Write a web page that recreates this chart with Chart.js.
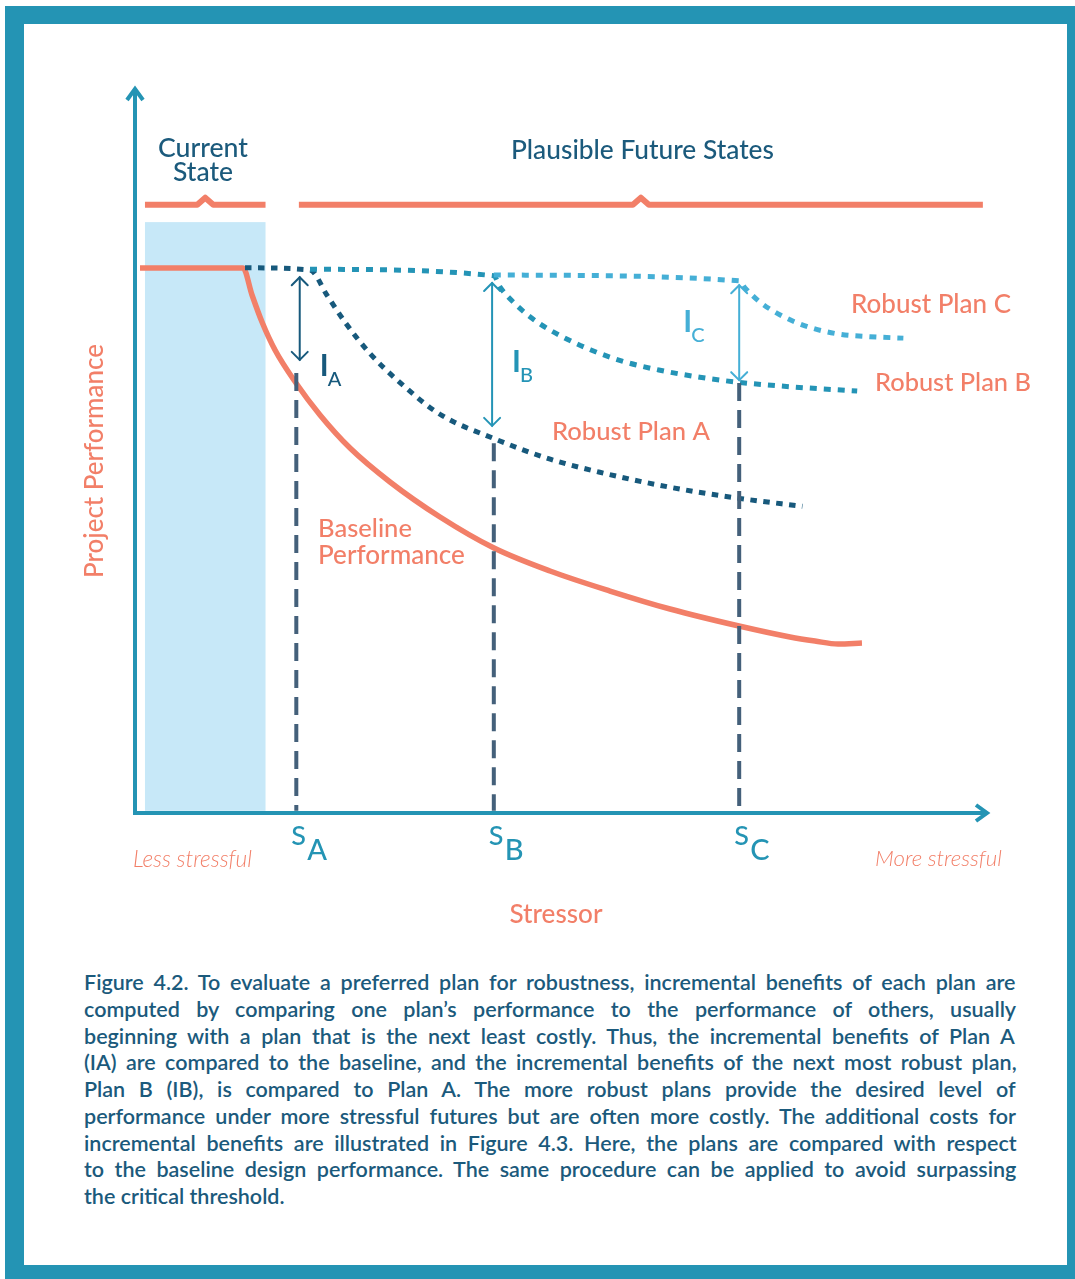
<!DOCTYPE html>
<html><head><meta charset="utf-8">
<script src="https://cdn.jsdelivr.net/npm/chart.js@4.4.0/dist/chart.umd.min.js"></script>
<style>
html,body{margin:0;padding:0;background:#fff;}
body{width:1075px;height:1279px;position:relative;overflow:hidden;font-family:Lato,sans-serif;}
#frame{position:absolute;left:5px;top:6px;width:1070px;height:1273px;background:#2494b4;}
#inner{position:absolute;left:19px;top:18px;width:1043px;height:1241px;background:#fff;}
#wrap{position:absolute;left:0;top:0;width:1075px;height:960px;}
#caption{position:absolute;left:84px;top:969px;width:933px;color:#1b5a7c;line-height:26.75px;font-weight:600;}
.ln{white-space:nowrap;height:26.75px;}
</style></head>
<body>
<div id="frame"><div id="inner"></div></div>
<div id="wrap"><canvas id="c" width="1075" height="960"></canvas></div>
<div id="caption"></div>
<script>
// ---------- data ----------
const baseX = [0.82, 12.87, 13.92, 15.09, 16.61, 19.06, 21.87, 25.38, 30.06, 35.91, 42.22, 48.77, 55.79, 62.81, 70.88, 76.84, 79.77, 82.46, 85.26];
const baseY = [75.17, 75.17, 71.45, 67.72, 63.86, 59.31, 54.90, 50.34, 45.66, 40.83, 36.55, 33.38, 30.62, 28.14, 25.79, 24.28, 23.72, 23.31, 23.45];
const planAX = [13.1, 20.7, 22.7, 24.8, 27.7, 31.2, 35.9, 42.1, 48.8, 54.6, 62.5, 70.9, 78.3];
const planAY = [75.2, 74.9, 71.4, 67.7, 63.4, 59.4, 55.0, 51.7, 48.8, 47.0, 45.0, 43.4, 42.3];
const planBX = [20.7, 42.2, 42.9, 44.8, 47.3, 50.2, 53.5, 57.3, 61.5, 66.3, 70.9, 76.8, 84.7];
const planBY = [75.0, 74.1, 72.6, 70.1, 67.7, 65.7, 63.9, 62.3, 61.1, 60.1, 59.4, 58.8, 58.2];
const planCX = [42.2, 70.9, 71.6, 73.3, 75.7, 78.6, 82.3, 86.2, 90.1];
const planCY = [74.2, 73.4, 72.4, 70.5, 68.7, 67.2, 66.1, 65.7, 65.5];
const stressX = [19.1, 42.2, 70.9];          // S_A, S_B, S_C
const stressTop = [60.7, 51.0, 59.3];        // top of dashed guides
const stressTicks = ['A', 'B', 'C'];
const incrX = [19.5, 42.0, 70.9];            // I_A, I_B, I_C arrows
const incrTop = [73.9, 73.1, 72.8];
const incrBottom = [62.5, 53.4, 59.7];
const incrLabels = ['A', 'B', 'C'];
const currentRange = [1.4, 15.5];
const futureRange = [19.4, 99.4];
const bracketY = 83.9;
const currentTop = 81.5;
const planNames = ['Robust Plan C', 'Robust Plan B', 'Robust Plan A'];
const captionLines = [
 "Figure 4.2. To evaluate a preferred plan for robustness, incremental benefits of each plan are",
 "computed by comparing one plan\u2019s performance to the performance of others, usually",
 "beginning with a plan that is the next least costly. Thus, the incremental benefits of Plan A",
 "(IA) are compared to the baseline, and the incremental benefits of the next most robust plan,",
 "Plan B (IB), is compared to Plan A. The more robust plans provide the desired level of",
 "performance under more stressful futures but are often more costly. The additional costs for",
 "incremental benefits are illustrated in Figure 4.3. Here, the plans are compared with respect",
 "to the baseline design performance. The same procedure can be applied to avoid surpassing",
 "the critical threshold."
];

// ---------- colours ----------
const TEAL = '#2494b4', SALMON = '#f27f68', NAVY = '#1b5a7c';
const C_A = '#17597c', C_B = '#2494b6', C_C = '#45afd6', SLATE = '#44607a', BOX = '#c7e8f8';

const pts = (xs, ys) => xs.map((x, i) => ({x, y: ys[i]}));

const datasets = [];
stressX.forEach((x, i) => datasets.push({
  data: [{x, y: stressTop[i]}, {x, y: 0.3}], borderColor: SLATE, borderWidth: 4,
  borderDash: [18, 9], pointRadius: 0, tension: 0
}));
datasets.push({data: pts(planCX, planCY), borderColor: C_C, borderWidth: 5, borderDash: [7, 7], pointRadius: 0, cubicInterpolationMode: 'monotone'});
datasets.push({data: pts(planBX, planBY), borderColor: C_B, borderWidth: 5, borderDash: [7, 7], pointRadius: 0, cubicInterpolationMode: 'monotone'});
datasets.push({data: pts(planAX, planAY), borderColor: C_A, borderWidth: 5, borderDash: [6.5, 6.5], pointRadius: 0, cubicInterpolationMode: 'monotone'});
datasets.push({data: pts(baseX, baseY), borderColor: SALMON, borderWidth: 5.5, pointRadius: 0, cubicInterpolationMode: 'monotone'});

function txt(ctx, s, x, y, o) {
  const style = o.italic ? 'italic ' : '';
  const weight = o.weight || '500';
  let size = o.size;
  ctx.font = `${style}${weight} ${size}px Lato`;
  if (o.width) {
    size = size * o.width / ctx.measureText(s).width;
    ctx.font = `${style}${weight} ${size}px Lato`;
  }
  ctx.fillStyle = o.color;
  ctx.textAlign = o.align || 'left';
  ctx.textBaseline = 'alphabetic';
  ctx.fillText(s, x, y);
}

function bracket(ctx, x0, x1, y) {
  const m = (x0 + x1) / 2;
  ctx.beginPath();
  ctx.moveTo(x0, y); ctx.lineTo(m - 8, y); ctx.lineTo(m, y - 7); ctx.lineTo(m + 8, y); ctx.lineTo(x1, y);
  ctx.stroke();
}

const decor = {
  id: 'decor',
  beforeDatasetsDraw(chart) {
    const {ctx, scales: {x, y}} = chart;
    ctx.save();
    ctx.fillStyle = BOX;
    const bx0 = x.getPixelForValue(currentRange[0]), bx1 = x.getPixelForValue(currentRange[1]);
    const by0 = y.getPixelForValue(currentTop), by1 = y.getPixelForValue(0.3);
    ctx.fillRect(bx0, by0, bx1 - bx0, by1 - by0);
    ctx.strokeStyle = SALMON; ctx.lineWidth = 6; ctx.lineJoin = 'round'; ctx.lineCap = 'butt';
    const yb = y.getPixelForValue(bracketY);
    bracket(ctx, bx0, bx1, yb);
    bracket(ctx, x.getPixelForValue(futureRange[0]), x.getPixelForValue(futureRange[1]), yb);
    ctx.restore();
  },
  afterDatasetsDraw(chart) {
    const {ctx, chartArea: ca, scales: {x, y}} = chart;
    ctx.save();
    // axes
    ctx.strokeStyle = TEAL; ctx.lineWidth = 4; ctx.lineCap = 'butt'; ctx.lineJoin = 'miter';
    const ax = ca.left + 2, ay = ca.bottom;
    ctx.beginPath(); ctx.moveTo(ax, ay + 2); ctx.lineTo(ax, ca.top + 2); ctx.stroke();
    ctx.beginPath(); ctx.moveTo(ca.left, ay); ctx.lineTo(ca.right - 2, ay); ctx.stroke();
    ctx.beginPath(); ctx.moveTo(ax - 8, ca.top + 12); ctx.lineTo(ax, ca.top + 1); ctx.lineTo(ax + 8, ca.top + 12); ctx.stroke();
    ctx.beginPath(); ctx.moveTo(ca.right - 12, ay - 8); ctx.lineTo(ca.right - 1, ay); ctx.lineTo(ca.right - 12, ay + 8); ctx.stroke();

    // increment arrows
    const arrowCols = [C_A, C_B, C_C];
    incrX.forEach((v, i) => {
      const px = x.getPixelForValue(v), t = y.getPixelForValue(incrTop[i]), b = y.getPixelForValue(incrBottom[i]);
      ctx.strokeStyle = arrowCols[i]; ctx.lineWidth = 2; ctx.lineCap = 'round';
      ctx.beginPath(); ctx.moveTo(px, t); ctx.lineTo(px, b); ctx.stroke();
      ctx.beginPath(); ctx.moveTo(px - 8, t + 8); ctx.lineTo(px, t); ctx.lineTo(px + 8, t + 8); ctx.stroke();
      ctx.beginPath(); ctx.moveTo(px - 8, b - 8); ctx.lineTo(px, b); ctx.lineTo(px + 8, b - 8); ctx.stroke();
      const off = i === 2 ? -56 : 20;
      const base = i === 0 ? 376 : i === 1 ? 372 : 332;
      txt(ctx, 'I', px + off, base, {size: 30, color: arrowCols[i], weight: '700'});
      txt(ctx, incrLabels[i], px + off + 8, base + 10, {size: 20, color: arrowCols[i]});
    });

    // stressor ticks
    stressX.forEach((v, i) => {
      const px = x.getPixelForValue(v);
      txt(ctx, 'S', px - 5, 845, {size: 27, color: TEAL});
      txt(ctx, stressTicks[i], px + 11, 860, {size: 29, color: TEAL});
    });

    // labels
    txt(ctx, 'Current', 203, 157, {size: 25, color: NAVY, align: 'center', width: 90});
    txt(ctx, 'State', 203, 181, {size: 25, color: NAVY, align: 'center', width: 60});
    txt(ctx, 'Plausible Future States', 511, 159, {size: 25, color: NAVY, width: 263});
    txt(ctx, planNames[0], 851, 313, {size: 23, color: SALMON, width: 160});
    txt(ctx, planNames[1], 875, 391, {size: 23, color: SALMON, width: 156});
    txt(ctx, planNames[2], 552, 440, {size: 23, color: SALMON, width: 158});
    txt(ctx, 'Baseline', 318, 537, {size: 23, color: SALMON, width: 94});
    txt(ctx, 'Performance', 318, 564, {size: 23, color: SALMON, width: 147});
    txt(ctx, 'Less stressful', 133, 867, {size: 19, color: SALMON, italic: true, weight: '300', width: 119});
    txt(ctx, 'More stressful', 875, 866, {size: 19, color: SALMON, italic: true, weight: '300', width: 127});
    txt(ctx, 'Stressor', 556, 923, {size: 23, color: SALMON, align: 'center', width: 93});
    ctx.save();
    ctx.translate(103, 461); ctx.rotate(-Math.PI / 2);
    txt(ctx, 'Project Performance', 0, 0, {size: 22, color: SALMON, align: 'center', width: 234});
    ctx.restore();
    ctx.restore();
  }
};

new Chart(document.getElementById('c'), {
  type: 'line',
  data: {datasets},
  options: {
    responsive: false, animation: false, events: [],
    layout: {padding: {left: 133, right: 87, top: 88, bottom: 147}},
    scales: {
      x: {type: 'linear', min: 0, max: 100, display: false},
      y: {type: 'linear', min: 0, max: 100, display: false}
    },
    plugins: {legend: {display: false}, tooltip: {enabled: false}}
  },
  plugins: [decor]
});

// caption, each line justified to the full width
const cap = document.getElementById('caption');
const meas = document.createElement('canvas').getContext('2d');
meas.font = '600 20px Lato';
let fs = Math.min(21.5, 20 * 926 / meas.measureText(captionLines[0]).width);
cap.style.fontSize = fs.toFixed(2) + 'px';
meas.font = `600 ${fs}px Lato`;
captionLines.forEach((t, i) => {
  const d = document.createElement('div');
  d.className = 'ln';
  d.textContent = t;
  if (i < captionLines.length - 1) {
    const w = meas.measureText(t).width;
    const spaces = (t.match(/ /g) || []).length;
    d.style.wordSpacing = ((933 - w) / spaces).toFixed(2) + 'px';
  }
  cap.appendChild(d);
});
</script>
</body></html>
